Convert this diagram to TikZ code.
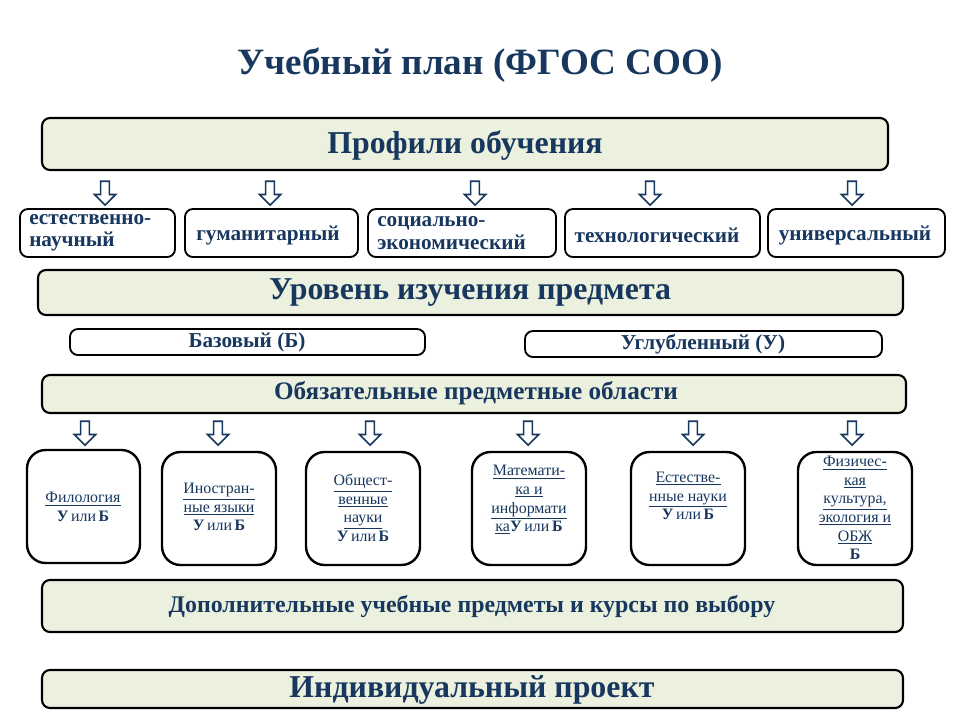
\documentclass[tikz,border=0pt]{standalone}
\usepackage{fontspec}
\setmainfont{Liberation Serif}
\usetikzlibrary{shapes.arrows}
\definecolor{navy}{HTML}{17375E}
\definecolor{panel}{HTML}{EBF1DE}
\newcommand{\ulx}[1]{\underline{#1}}
\newcommand{\UB}{\textbf{\large У}\,или\,\textbf{\large Б}}
\begin{document}
\begin{tikzpicture}[
        x=0.0265cm, y=-0.0265cm,
        band/.style={draw=black, line width=1.6pt, fill=panel, rounded corners=6pt},
        profile/.style={draw=black, line width=1.4pt, fill=white, rounded corners=6pt},
        subject/.style={draw=black, line width=1.8pt, fill=white, rounded corners=14pt},
        label/.style={text=navy, font=\bfseries\fontsize{16}{17}\selectfont},
        sublabel/.style={text=navy, align=center, inner sep=0pt, font=\fontsize{12}{14}\selectfont},
        downarrow/.style={single arrow, draw=navy, line width=1.2pt, fill=white, shape border rotate=270, minimum height=18pt, minimum width=16pt, single arrow head extend=3pt, inner sep=1.5pt}
    ]
    \useasboundingbox (0,0) rectangle (960,720);

    % Title
    \node[text=navy, font=\bfseries\fontsize{28}{30}\selectfont] (title) at (480,65) {Учебный план (ФГОС СОО)};

    % Profiles
    \draw[band] (42,118) rectangle (888,170);
    \node[label, font=\bfseries\fontsize{24}{26}\selectfont] (profiles) at (465,146) {Профили обучения};
    \foreach \x/\n in {105/a1, 270/a2, 475/a3, 650/a4, 852/a5}
        \node[downarrow] (\n) at (\x,191) {};

    \draw[profile] (20,209) rectangle (175,257);
    \node[label, align=left, anchor=west, inner sep=0pt] (estnauch) at (29,233) {естественно-\\научный};
    \draw[profile] (185,209) rectangle (358,257);
    \node[label] (guman) at (268,235) {гуманитарный};
    \draw[profile] (368,209) rectangle (556,257);
    \node[label, align=left, anchor=west, inner sep=0pt] (socek) at (377,233) {социально-\\экономический};
    \draw[profile] (565,209) rectangle (760,257);
    \node[label] (tech) at (657,235) {технологический};
    \draw[profile] (768,209) rectangle (945,257);
    \node[label] (univ) at (855,235) {универсальный};

    % Level
    \draw[band] (38,270) rectangle (903,315);
    \node[label, font=\bfseries\fontsize{24}{26}\selectfont] (level) at (470,293) {Уровень изучения предмета};
    \draw[profile] (70,329) rectangle (425,355);
    \node[label] (base) at (247,342) {Базовый (Б)};
    \draw[profile] (525,331) rectangle (882,357);
    \node[label] (deep) at (703,344) {Углубленный (У)};

    % Areas
    \draw[band] (42,375) rectangle (906,413);
    \node[label, font=\bfseries\fontsize{19}{21}\selectfont] (areas) at (476,393) {Обязательные предметные области};
    \foreach \x/\n in {85/b1, 218/b2, 370/b3, 528/b4, 693/b5, 852/b6}
        \node[downarrow] (\n) at (\x,431) {};

    \draw[subject] (27,450) rectangle (140,563);
    \node[sublabel] (filol) at (83,507) {\ulx{Филология}\\\UB};
    \draw[subject] (162,452) rectangle (276,565);
    \node[sublabel] (lang) at (219,507) {\ulx{Иностран-}\\\ulx{ные языки}\\\UB};
    \draw[subject] (306,452) rectangle (420,565);
    \node[sublabel] (soc) at (363,508) {\ulx{Общест-}\\\ulx{венные}\\\ulx{науки}\\\UB};
    \draw[subject] (472,452) rectangle (586,565);
    \node[sublabel] (math) at (529,500) {\ulx{Математи-}\\\ulx{ка и}\\\ulx{информати}\\\ulx{ка}\UB};
    \draw[subject] (631,452) rectangle (745,565);
    \node[sublabel] (nat) at (688,496) {\ulx{Естестве-}\\\ulx{нные науки}\\\UB};
    \draw[subject] (798,452) rectangle (912,565);
    \node[sublabel] (phys) at (855,508) {\ulx{Физичес-}\\\ulx{кая}\\\ulx{культура,}\\\ulx{экология и}\\\ulx{ОБЖ}\\\textbf{\large Б}};

    % Extra
    \draw[band] (42,580) rectangle (903,632);
    \node[label, font=\bfseries\fontsize{18}{20}\selectfont] (extra) at (472,607) {Дополнительные учебные предметы и курсы по выбору};
    \draw[band] (42,670) rectangle (903,708);
    \node[label, font=\bfseries\fontsize{24}{26}\selectfont] (project) at (472,690) {Индивидуальный проект};
\end{tikzpicture}
\end{document}
